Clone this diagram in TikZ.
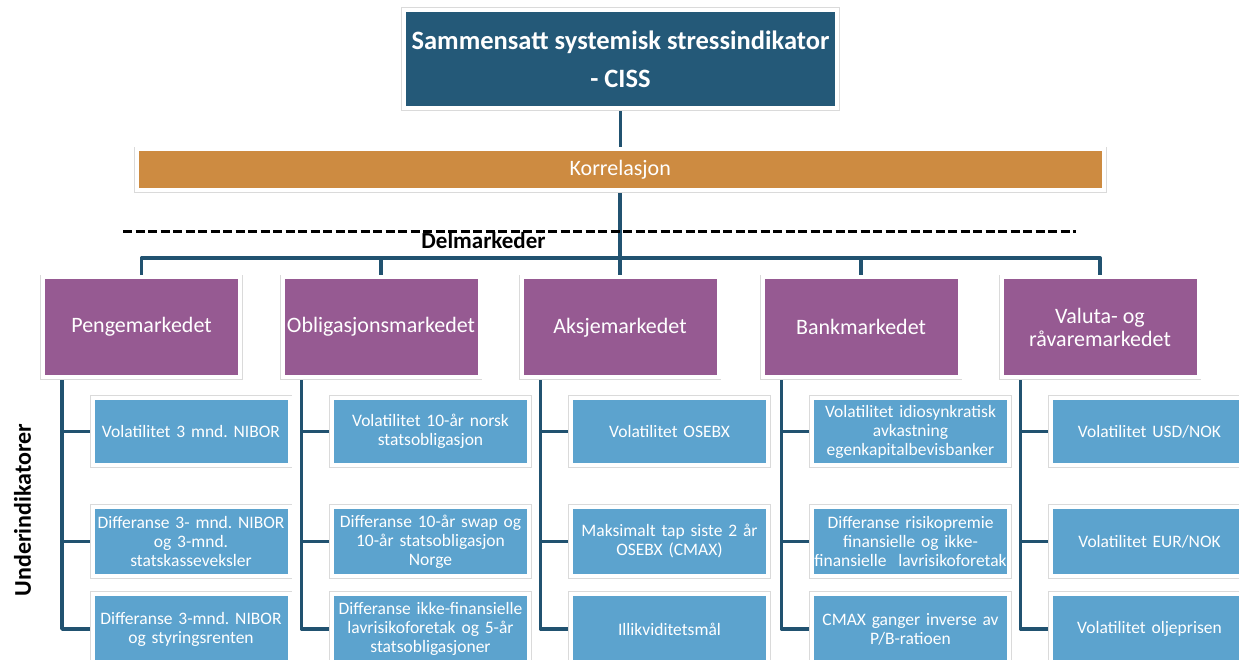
\documentclass[tikz,border=0pt]{standalone}
\usepackage{fontspec}
\setmainfont{Carlito}
\frenchspacing
\usetikzlibrary{backgrounds,calc}
\definecolor{ttl}{RGB}{36,89,120}
\definecolor{kor}{RGB}{205,139,65}
\definecolor{pur}{RGB}{150,90,146}
\definecolor{blu}{RGB}{92,163,206}
\definecolor{lin}{RGB}{33,82,112}
\definecolor{frm}{RGB}{218,218,218}
\tikzset{
  framed/.style={draw=white, line width=4, preaction={draw=frm, line width=5.6}, inner sep=0, text=white, align=center},
  titlebox/.style={framed, fill=ttl, minimum width=433, minimum height=98, font=\fontsize{26.5}{38}\selectfont\bfseries},
  korbox/.style={framed, fill=kor, minimum width=967.5, minimum height=41, font=\fontsize{22}{24}\selectfont},
  mktbox/.style={framed, fill=pur, minimum width=197, minimum height=99.5, font=\fontsize{22}{23.5}\selectfont},
  indbox/.style={framed, fill=blu, minimum width=197, text width=190, font=\fontsize{17.5}{19}\selectfont},
  rowa/.style={indbox, minimum height=67},
  rowb/.style={indbox, minimum height=69},
  rowc/.style={indbox, minimum height=70},
  conn/.style={draw=lin, line width=3.8, line join=round},
  dashline/.style={draw=black, line width=3, dash pattern=on 9 off 3.5},
  heading/.style={text=black, inner sep=0, font=\fontsize{23}{25}\selectfont\bfseries},
}
\begin{document}
\begin{tikzpicture}[x=1pt,y=-1pt]
\useasboundingbox (0,0) rectangle (1239,660);

% title and correlation
\node[titlebox] (T) at (620.5,59) {Sammensatt systemisk stressindikator\\- CISS};
\node[korbox] (K) at (620.25,170) {Korrelasjon};

% dashed separator and labels
\coordinate (dl) at (123,232);
\coordinate (dr) at (1076,232);
\draw[dashline] (dl) -- (dr);
\node[heading, anchor=base] (D) at (483.5,249) {Delmarkeder};
\node[heading, rotate=90, font=\fontsize{24}{26}\selectfont\bfseries] (U) at (22.5,510) {Underindikatorer};

% markets
\node[mktbox] (P1) at (141.5,327.25) {Pengemarkedet};
\node[mktbox] (P2) at (381,327.25) {Obligasjonsmarkedet};
\node[mktbox] (P3) at (620,327.25) {Aksjemarkedet};
\node[mktbox] (P4) at (861,327.25) {Bankmarkedet};
\node[mktbox] (P5) at (1100,327.25) {Valuta- og\\råvaremarkedet};

% indicators
\node[rowa] (B11) at (191,431.5) {Volatilitet 3 mnd. NIBOR};
\node[rowb] (B12) at (191,541.5) {Differanse 3- mnd. NIBOR\\og 3-mnd.\\statskasseveksler};
\node[rowc] (B13) at (191,629) {Differanse 3-mnd. NIBOR\\og styringsrenten};

\node[rowa] (B21) at (430.5,431.5) {Volatilitet 10-år norsk\\statsobligasjon};
\node[rowb] (B22) at (430.5,541.5) {Differanse 10-år swap og\\10-år statsobligasjon\\Norge};
\node[rowc] (B23) at (430.5,629) {Differanse ikke-finansielle\\lavrisikoforetak og 5-år\\statsobligasjoner};

\node[rowa] (B31) at (669.5,431.5) {Volatilitet OSEBX};
\node[rowb] (B32) at (669.5,541.5) {Maksimalt tap siste 2 år\\OSEBX (CMAX)};
\node[rowc] (B33) at (669.5,629) {Illikviditetsmål};

\node[rowa] (B41) at (910.5,431.5) {Volatilitet idiosynkratisk\\avkastning\\egenkapitalbevisbanker};
\node[rowb] (B42) at (910.5,541.5) {Differanse risikopremie\\finansielle og ikke-\\\makebox[\linewidth]{finansielle\ \ lavrisikoforetak}};
\node[rowc] (B43) at (910.5,629) {CMAX ganger inverse av\\P/B-ratioen};

\node[rowa] (B51) at (1149.5,431.5) {Volatilitet USD/NOK};
\node[rowb] (B52) at (1149.5,541.5) {Volatilitet EUR/NOK};
\node[rowc] (B53) at (1149.5,629) {Volatilitet oljeprisen};

% connectors
\coordinate (bus) at (620,258);
\begin{scope}[on background layer]
  \draw[conn] (T.south) -- (T.south |- K.north);
  \draw[conn] (K.south) -- (K.south |- bus);
  \draw[conn] (P1.north) |- (bus) -| (P5.north);
  \draw[conn] (P2.north) -- (P2.north |- bus);
  \draw[conn] (P3.north) -- (P3.north |- bus);
  \draw[conn] (P4.north) -- (P4.north |- bus);
  \foreach \i in {1,...,5}{
    \coordinate (v\i) at ($(P\i.south)+(-79.5,0)$);
    \draw[conn] (v\i) |- (B\i3.west);
    \draw[conn] (v\i |- B\i1.west) -- (B\i1.west);
    \draw[conn] (v\i |- B\i2.west) -- (B\i2.west);
  }
\end{scope}
\end{tikzpicture}
\end{document}
